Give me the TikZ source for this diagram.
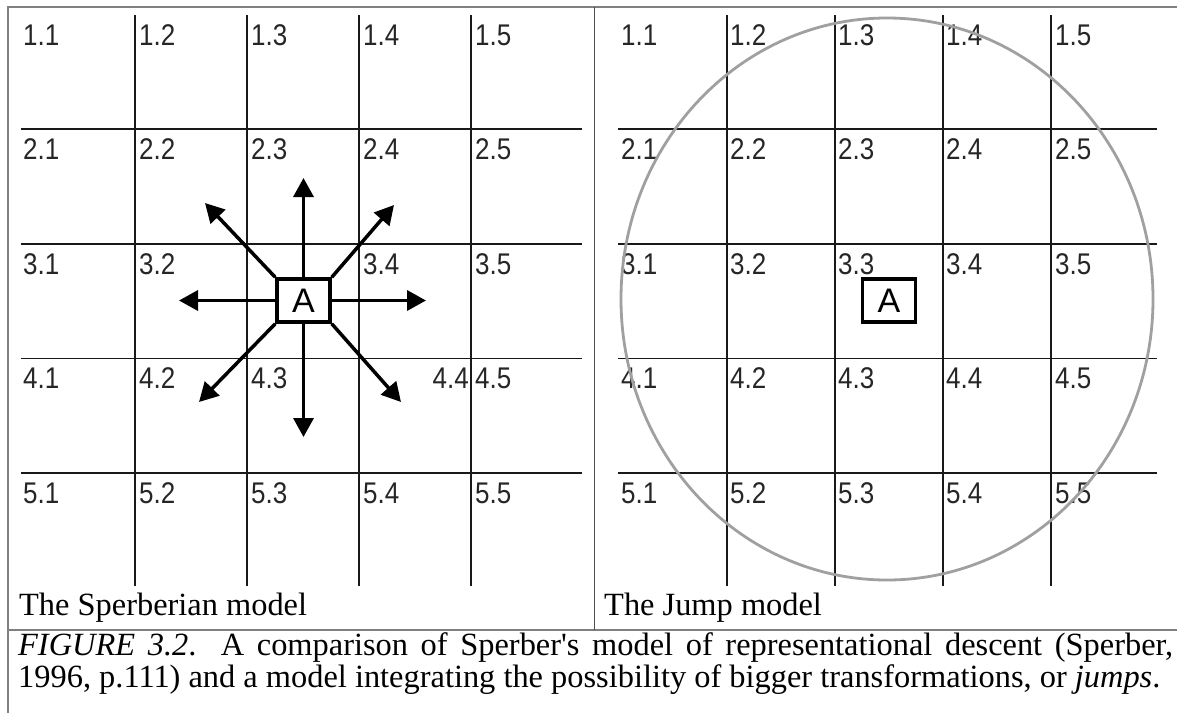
\documentclass[tikz,border=0pt]{standalone}
\usepackage{graphicx}
\usepackage{fontspec}
\setmainfont{Liberation Serif}
\newfontfamily\cellfont{Liberation Sans}
\usetikzlibrary{arrows.meta}
\definecolor{framegray}{HTML}{808080}
\definecolor{ringgray}{HTML}{A0A0A0}

\tikzset{
  gridline/.style={black!90, line width=1.8pt},
  cell/.style={font=\fontsize{26}{26}\selectfont\cellfont, text=black!85, inner sep=0pt, anchor=base west},
  agent/.style={draw, line width=3.5pt, minimum width=53pt, minimum height=43pt, inner sep=0pt, font=\fontsize{34}{34}\selectfont\cellfont},
  move/.style={line width=3.5pt, -{Triangle[length=19pt, width=20pt]}},
  paneltext/.style={font=\fontsize{32.4}{32}\selectfont, inner sep=0pt, anchor=base west}
}
\newcommand{\cellno}[1]{\scalebox{1}[1.15]{#1}}

\begin{document}
\begin{tikzpicture}[x=1pt, y=-1pt]
\useasboundingbox (0,0) rectangle (1177,713);
% frame and separators
\draw[framegray, line width=2pt] (8,713) -- (8,7) -- (1177,7);
\draw[framegray, line width=2pt] (8,630) -- (1177,630);
\draw[black!70, line width=1pt] (594,7) -- (594,630);

% left panel grid
\foreach \y in {129,244,358.5,473} \draw[gridline] (21,\y) -- (582,\y);
\foreach \x in {135,247,359,471} \draw[gridline] (\x,15) -- (\x,586);
% right panel grid
\foreach \y in {129,244,358.5,473} \draw[gridline] (618,\y) -- (1157,\y);
\foreach \x in {727,835,943,1051} \draw[gridline] (\x,15) -- (\x,586);

% cell numbers, left (3.3 hidden by the box, 4.4 pushed right)
\foreach \y [count=\r] in {45,159,274,388,503}
  \foreach \x [count=\c] in {23,139,251,363,475} {
    \ifnum\r\c=33 \else \ifnum\r\c=44 \else
      \node[cell] (l-\r-\c) at (\x,\y) {\cellno{\r.\c}};
    \fi\fi
  }
\node[cell, anchor=base east] (l-4-4) at (469,388) {\cellno{4.4}};
% cell numbers, right
\foreach \y [count=\r] in {45,159,274,388,503}
  \foreach \x [count=\c] in {621,730,838,946,1055}
    \node[cell] (r-\r-\c) at (\x,\y) {\cellno{\r.\c}};

% Sperberian model: small steps in all directions
\node[agent] (a-left) at (303.5,300.5) {A};
\coordinate (n-end) at (303.5,178);
\coordinate (s-end) at (303.5,437);
\coordinate (w-end) at (179,300.5);
\coordinate (e-end) at (426,300.5);
\coordinate (nw-end) at (205,203);
\coordinate (ne-end) at (394,205);
\coordinate (sw-end) at (199,402);
\coordinate (se-end) at (401,402);
\draw[move] (a-left.north) -- (n-end);
\draw[move] (a-left.south) -- (s-end);
\draw[move] (a-left.west) -- (w-end);
\draw[move] (a-left.east) -- (e-end);
\draw[move] (a-left.north west) -- (nw-end);
\draw[move] (a-left.north east) -- (ne-end);
\draw[move] (a-left.south west) -- (sw-end);
\draw[move] (a-left.south east) -- (se-end);

% Jump model: reach of one jump
\node[agent] (a-right) at (889,300.5) {A};
\draw[ringgray, line width=2.8pt] (887,299) ellipse [x radius=266, y radius=281];

% texts
\node[paneltext] (cap-left) at (19,615) {The Sperberian model};
\node[paneltext] (cap-right) at (604,615) {The Jump model};
\node[font=\fontsize{32.4}{32}\selectfont, inner sep=0pt, anchor=north west, text width=1155pt, align=justify]
  (figcap) at (18,632) {\textit{FIGURE 3.2}. A comparison of Sperber\textquotesingle s model of representational descent (Sperber,\linebreak 1996, p.111) and a model integrating the possibility of bigger transformations, or \textit{jumps}.};
\end{tikzpicture}
\end{document}
